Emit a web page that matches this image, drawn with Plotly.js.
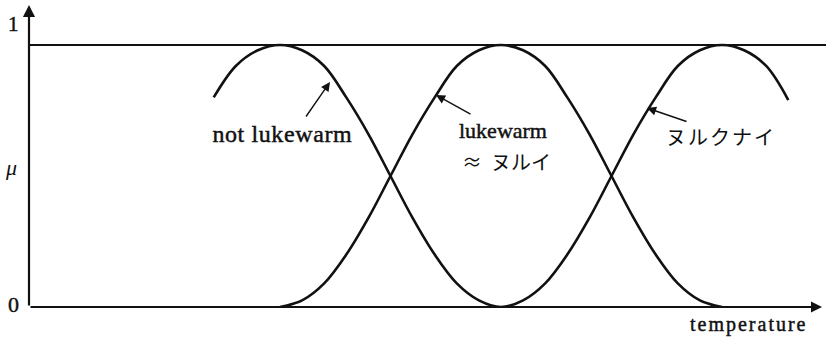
<!DOCTYPE html>
<html><head><meta charset="utf-8">
<script src="https://cdn.plot.ly/plotly-3.0.1.min.js"></script>
<style>html,body{margin:0;padding:0;background:#fff}#c{width:829px;height:337px}</style>
</head><body><div id="c"></div>
<script>
// membership grades (temperature in arbitrary units)
const notLukewarmX = [7,8,9,10,11,12,13,14,15,16,17,18,19,20,21,22,23,24,25,26,27,28,29,30,31,32,33];
const notLukewarmY = [0.80,0.92,0.98,1,0.98,0.92,0.80,0.66,0.50,0.34,0.20,0.09,0.025,0,0.025,0.09,0.20,0.34,0.50,0.66,0.80,0.92,0.98,1,0.98,0.92,0.79];
const lukewarmX = [10,11,12,13,14,15,16,17,18,19,20,21,22,23,24,25,26,27,28,29,30];
const lukewarmY = [0,0.025,0.09,0.20,0.34,0.50,0.66,0.80,0.92,0.98,1,0.98,0.92,0.80,0.66,0.50,0.34,0.20,0.09,0.025,0];
const topLineX = [-1.357, 34.706];
const topLineY = [1, 1];
const labels = {one:"1", zero:"0", mu:"<i>μ</i>", notLuke:"not lukewarm", luke:"lukewarm", nurui:"≈  ヌルイ", nurukunai:"ヌルクナイ", xlab:"temperature"};

const L=29, R=3, T=5, B=30, W=829, H=337;
const xr=[-1.357, 34.706], yr=[0, 1.1527];
const pw=W-L-R, ph=H-T-B;
const qx = p => (p-L)/pw;      // pixel -> paper
const qy = p => (H-B-p)/ph;

const serif = "Liberation Serif, Times New Roman, serif";
const jp = "Noto Sans CJK JP, sans-serif";
const ink = "#111";

const traces = [
 {x:notLukewarmX, y:notLukewarmY, mode:"lines", line:{color:ink,width:2.6,shape:"spline",smoothing:1}, hoverinfo:"skip"},
 {x:lukewarmX, y:lukewarmY, mode:"lines", line:{color:ink,width:2.6,shape:"spline",smoothing:1}, hoverinfo:"skip"},
 {x:topLineX, y:topLineY, mode:"lines", line:{color:ink,width:2}, hoverinfo:"skip"}
];

function txt(t, xp, yp, size, fam){
  return {x:qx(xp), y:qy(yp), xref:"paper", yref:"paper", text:t, showarrow:false,
    font:{family:fam, size:size, color:ink}, xanchor:"center", yanchor:"middle"};
}
function arr(xh, yh, xt, yt){
  return {x:qx(xh), y:qy(yh), xref:"paper", yref:"paper", text:"", showarrow:true,
    ax:xt-xh, ay:yt-yh, arrowhead:2, arrowsize:1.3, arrowwidth:1.4, arrowcolor:ink, standoff:0};
}

const annotations = [
 {x:qx(L), y:qy(T), xref:"paper", yref:"paper", text:"", showarrow:true, ax:0, ay:(H-B)-T, arrowhead:2, arrowsize:1.1, arrowwidth:2.2, arrowcolor:ink, standoff:0},
 {x:qx(822), y:qy(H-B), xref:"paper", yref:"paper", text:"", showarrow:true, ax:-(822-L), ay:0, arrowhead:2, arrowsize:1.1, arrowwidth:2, arrowcolor:ink, standoff:0},
 txt(labels.one, 13, 24, 21, serif),
 txt(labels.zero, 13, 304, 22, serif),
 txt(labels.mu, 11, 167, 22, serif),
 txt(labels.notLuke, 282, 134, 24, serif),
 txt(labels.luke, 503, 130, 22, serif),
 txt(labels.nurui, 506, 161, 20, jp),
 txt(labels.nurukunai, 721, 136, 20, jp),
 txt(labels.xlab, 749, 324, 20, serif),
 arr(330, 82, 305, 118),
 arr(436, 95, 472, 115),
 arr(647, 108, 688, 122)
];
const spacing = {5:0.6, 8:2, 9:2};
const thicken = [2,3,5,6,9];

const layout = {
  width:W, height:H, margin:{l:L, r:R, t:T, b:B, pad:0},
  paper_bgcolor:"#fff", plot_bgcolor:"#fff", showlegend:false,
  xaxis:{range:xr, visible:false, fixedrange:true},
  yaxis:{range:yr, visible:false, fixedrange:true},
  annotations:annotations
};
Plotly.newPlot("c", traces, layout, {staticPlot:true, displayModeBar:false}).then(gd => {
  gd.querySelectorAll("g.annotation").forEach(g => {
    const i = +g.getAttribute("data-index");
    const t = g.querySelector("text.annotation-text");
    if (!t) return;
    if (thicken.includes(i)) { t.style.stroke = ink; t.style.strokeWidth = "0.45px"; }
    if (spacing[i]) {
      const w0 = t.getBBox().width;
      t.setAttribute("letter-spacing", spacing[i] + "px");
      t.querySelectorAll("tspan").forEach(s => s.setAttribute("letter-spacing", spacing[i] + "px"));
      const w1 = t.getBBox().width;
      const x = parseFloat(t.getAttribute("x") || "0");
      const anchor = t.getAttribute("text-anchor") || getComputedStyle(t).textAnchor;
      if (anchor !== "middle") t.setAttribute("x", x - (w1 - w0) / 2);
    }
  });
});
</script></body></html>
